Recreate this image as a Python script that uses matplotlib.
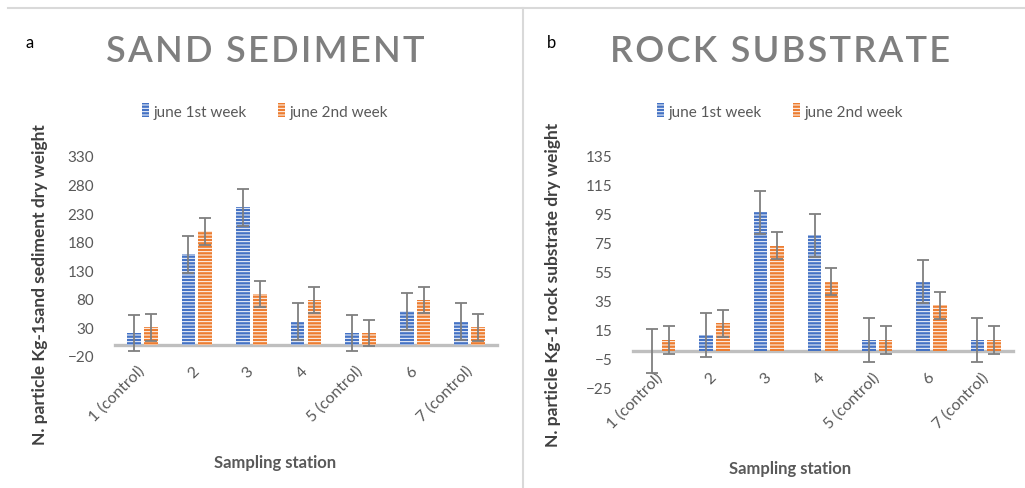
import numpy as np
import matplotlib.pyplot as plt
from matplotlib.patches import Patch
from matplotlib.lines import Line2D

plt.rcParams['font.family'] = ['Lato', 'DejaVu Sans']
plt.rcParams['hatch.linewidth'] = 0.7

# Data
stations = ['1 (control)', '2', '3', '4', '5 (control)', '6', '7 (control)']

sand_w1 = [20, 158, 240, 40, 20, 58, 40]
sand_w2 = [30, 198, 88, 78, 20, 78, 30]
sand_err_w1 = [32, 32, 32, 32, 32, 32, 32]
sand_err_w2 = [23, 23, 23, 23, 23, 23, 23]
sand_ticks = [-20, 30, 80, 130, 180, 230, 280, 330]

rock_w1 = [0, 11, 96, 80, 7.5, 48, 7.5]
rock_w2 = [7.5, 19, 73, 48, 7.5, 31.5, 7.5]
rock_err_w1 = [15, 15, 15, 15, 15, 15, 15]
rock_err_w2 = [9.5, 9.5, 9.5, 9.5, 9.5, 9.5, 9.5]
rock_ticks = [-25, -5, 15, 35, 55, 75, 95, 115, 135]

BLUE = '#4472C4'
ORANGE = '#ED7D31'
GRAY_TXT = '#595959'
TITLE_C = '#7f7f7f'

fig = plt.figure(figsize=(10.25, 4.89), dpi=100)

# frame lines of the composite image
fig.add_artist(Line2D([0.008, 1.0], [1 - 9/489, 1 - 9/489], color='#d9d9d9', lw=1.5))
fig.add_artist(Line2D([523/1025, 523/1025], [0, 1 - 9/489], color='#d9d9d9', lw=1.5))


def panel(rect, w1, w2, e1, e2, ticks, title, letter, ylabel, cx, lx, ly, xly):
    ax = fig.add_axes(rect)
    x = np.arange(len(stations))
    width = 0.25
    off = 0.155
    ax.bar(x - off, w1, width, color=BLUE, edgecolor='white', linewidth=0,
           hatch='-----', zorder=2)
    ax.bar(x + off, w2, width, color=ORANGE, edgecolor='white', linewidth=0,
           hatch='-----', zorder=2)
    ax.errorbar(x - off, w1, yerr=e1, fmt='none', ecolor='#7f7f7f',
                elinewidth=1.3, capsize=4, capthick=1.3, zorder=3)
    ax.errorbar(x + off, w2, yerr=e2, fmt='none', ecolor='#7f7f7f',
                elinewidth=1.3, capsize=4, capthick=1.3, zorder=3)

    for s in ['top', 'right', 'left']:
        ax.spines[s].set_visible(False)
    ax.spines['bottom'].set_position(('data', 0))
    ax.spines['bottom'].set_color('#bfbfbf')
    ax.spines['bottom'].set_linewidth(2.4)
    ax.spines['bottom'].set_zorder(1)

    ax.set_xlim(-0.5, len(stations) - 0.5)
    ax.set_ylim(ticks[0], ticks[-1])
    ax.set_yticks(ticks)
    ax.set_xticks(x)
    ax.set_xticklabels(stations)
    ax.tick_params(axis='both', length=0, colors=GRAY_TXT, labelsize=11)
    ax.tick_params(axis='y', pad=15)
    ax.tick_params(axis='x', pad=17)
    plt.setp(ax.get_xticklabels(), rotation=45, ha='right', va='center',
             rotation_mode='anchor', fontsize=11.5)
    ax.set_facecolor('none')

    # slightly spaced-out title like the original (hair spaces)
    fig.text(cx, 1 - 52/489, '\u200a'.join(title), ha='center',
             va='center', fontsize=26, fontweight='semibold', color=TITLE_C,
             family=['Lato', 'DejaVu Sans'])
    fig.text(lx, 1 - 43/489, letter, ha='center', va='center', fontsize=12,
             color='black')
    fig.text(ly, 1 - 285/489, ylabel, rotation=90, ha='center', va='center',
             fontsize=12.5, fontweight='bold', color='#404040')
    fig.text(cx + 0.01, 1 - xly/489, 'Sampling station', ha='center',
             va='center', fontsize=12, fontweight='bold', color=GRAY_TXT)

    handles = [Patch(facecolor=BLUE, edgecolor='white', linewidth=0, hatch='-----',
                     label='june 1st week'),
               Patch(facecolor=ORANGE, edgecolor='white', linewidth=0, hatch='-----',
                     label='june 2nd week')]
    fig.legend(handles=handles, loc='center', bbox_to_anchor=(cx, 1 - 112/489),
               ncol=2, frameon=False, fontsize=11, labelcolor=GRAY_TXT,
               handlelength=0.5, handleheight=1.0, handletextpad=0.3,
               columnspacing=2.0)
    return ax


panel([115/1025, 1 - 357/489, 382/1025, 200/489],
      sand_w1, sand_w2, sand_err_w1, sand_err_w2, sand_ticks,
      'SAND SEDIMENT', 'a', 'N. particle Kg-1sand sediment dry weight',
      265/1025, 30/1025, 40/1025, 463)

panel([633/1025, 1 - 388/489, 380/1025, 231/489],
      rock_w1, rock_w2, rock_err_w1, rock_err_w2, rock_ticks,
      'ROCK SUBSTRATE', 'b', 'N. particle Kg-1 rock substrate dry weight',
      780/1025, 552/1025, 553/1025, 469)

plt.savefig('out.png', dpi=100)
